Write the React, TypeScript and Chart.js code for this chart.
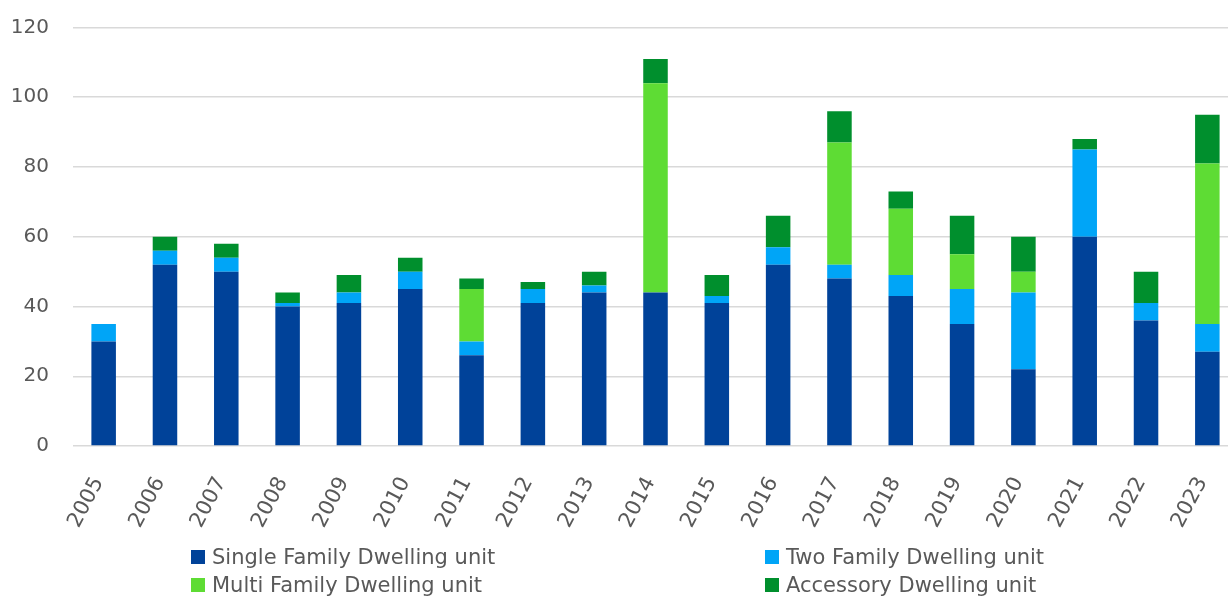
import React, { useEffect, useRef } from "react";
import { Chart, registerables } from "chart.js";

Chart.register(...registerables);

const years = ["2005","2006","2007","2008","2009","2010","2011","2012","2013","2014","2015","2016","2017","2018","2019","2020","2021","2022","2023"];
const singleFamily = [30, 52, 50, 40, 41, 45, 26, 41, 44, 44, 41, 52, 48, 43, 35, 22, 60, 36, 27];
const twoFamily = [5, 4, 4, 1, 3, 5, 4, 4, 2, 0, 2, 5, 4, 6, 10, 22, 25, 5, 8];
const multiFamily = [0, 0, 0, 0, 0, 0, 15, 0, 0, 60, 0, 0, 35, 19, 10, 6, 0, 0, 46];
const accessory = [0, 4, 4, 3, 5, 4, 3, 2, 4, 7, 6, 9, 9, 5, 11, 10, 3, 9, 14];

const seriesNames = [
  "Single Family Dwelling unit",
  "Two Family Dwelling unit",
  "Multi Family Dwelling unit",
  "Accessory Dwelling unit",
];
const seriesColors = ["#004299", "#00A5F7", "#5EDC34", "#008F2D"];
const yTicks = [0, 20, 40, 60, 80, 100, 120];

const FONT = "'DejaVu Sans', sans-serif";
const TEXT = "#595959";

export default function App() {
  const ref = useRef<HTMLCanvasElement | null>(null);

  useEffect(() => {
    if (!ref.current) return;
    const values = [singleFamily, twoFamily, multiFamily, accessory];
    const chart = new Chart(ref.current, {
      type: "bar",
      data: {
        labels: years,
        datasets: values.map((d, i) => ({
          label: seriesNames[i],
          data: d,
          backgroundColor: seriesColors[i],
          borderWidth: 0,
          barPercentage: 0.4,
          categoryPercentage: 1,
        })),
      },
      options: {
        responsive: false,
        animation: false,
        layout: { padding: { top: 27.5, right: 0, bottom: 0, left: 0 } },
        plugins: {
          legend: { display: false },
          tooltip: { enabled: false },
        },
        scales: {
          x: {
            stacked: true,
            grid: { display: false, drawTicks: false },
            border: { display: false },
            ticks: {
              color: TEXT,
              font: { family: FONT, size: 21 },
              minRotation: 62,
              maxRotation: 62,
              padding: 27,
              labelOffset: -5,
              autoSkip: false,
            },
            afterFit: (scale: any) => {
              scale.height = 153;
              scale.paddingLeft = 0;
              scale.paddingRight = 0;
            },
          },
          y: {
            stacked: true,
            min: yTicks[0],
            max: yTicks[yTicks.length - 1],
            grid: { color: "#d9d9d9", lineWidth: 1.5, drawTicks: false },
            border: { display: false },
            ticks: {
              stepSize: 20,
              color: TEXT,
              font: { family: FONT, size: 20 },
              padding: 24,
            },
            afterFit: (scale: any) => {
              scale.width = 73;
              scale.paddingTop = 0;
              scale.paddingBottom = 0;
            },
          },
        },
      },
    });
    return () => chart.destroy();
  }, []);

  return (
    <div
      style={{
        position: "absolute",
        left: 0,
        top: 0,
        width: 1228,
        height: 599,
        overflow: "hidden",
        background: "#fff",
      }}
    >
      <canvas ref={ref} width={1238} height={599} style={{ display: "block" }} />
      <div
        style={{
          position: "absolute",
          left: 191,
          top: 543,
          display: "grid",
          gridTemplateColumns: "574px auto",
          fontFamily: FONT,
          fontSize: 21,
          lineHeight: "28px",
          color: TEXT,
          whiteSpace: "nowrap",
        }}
      >
        {seriesNames.map((name, i) => (
          <div key={name}>
            <span
              style={{
                display: "inline-block",
                width: 14,
                height: 14,
                marginRight: 7,
                background: seriesColors[i],
                verticalAlign: "baseline",
              }}
            />
            {name}
          </div>
        ))}
      </div>
    </div>
  );
}
